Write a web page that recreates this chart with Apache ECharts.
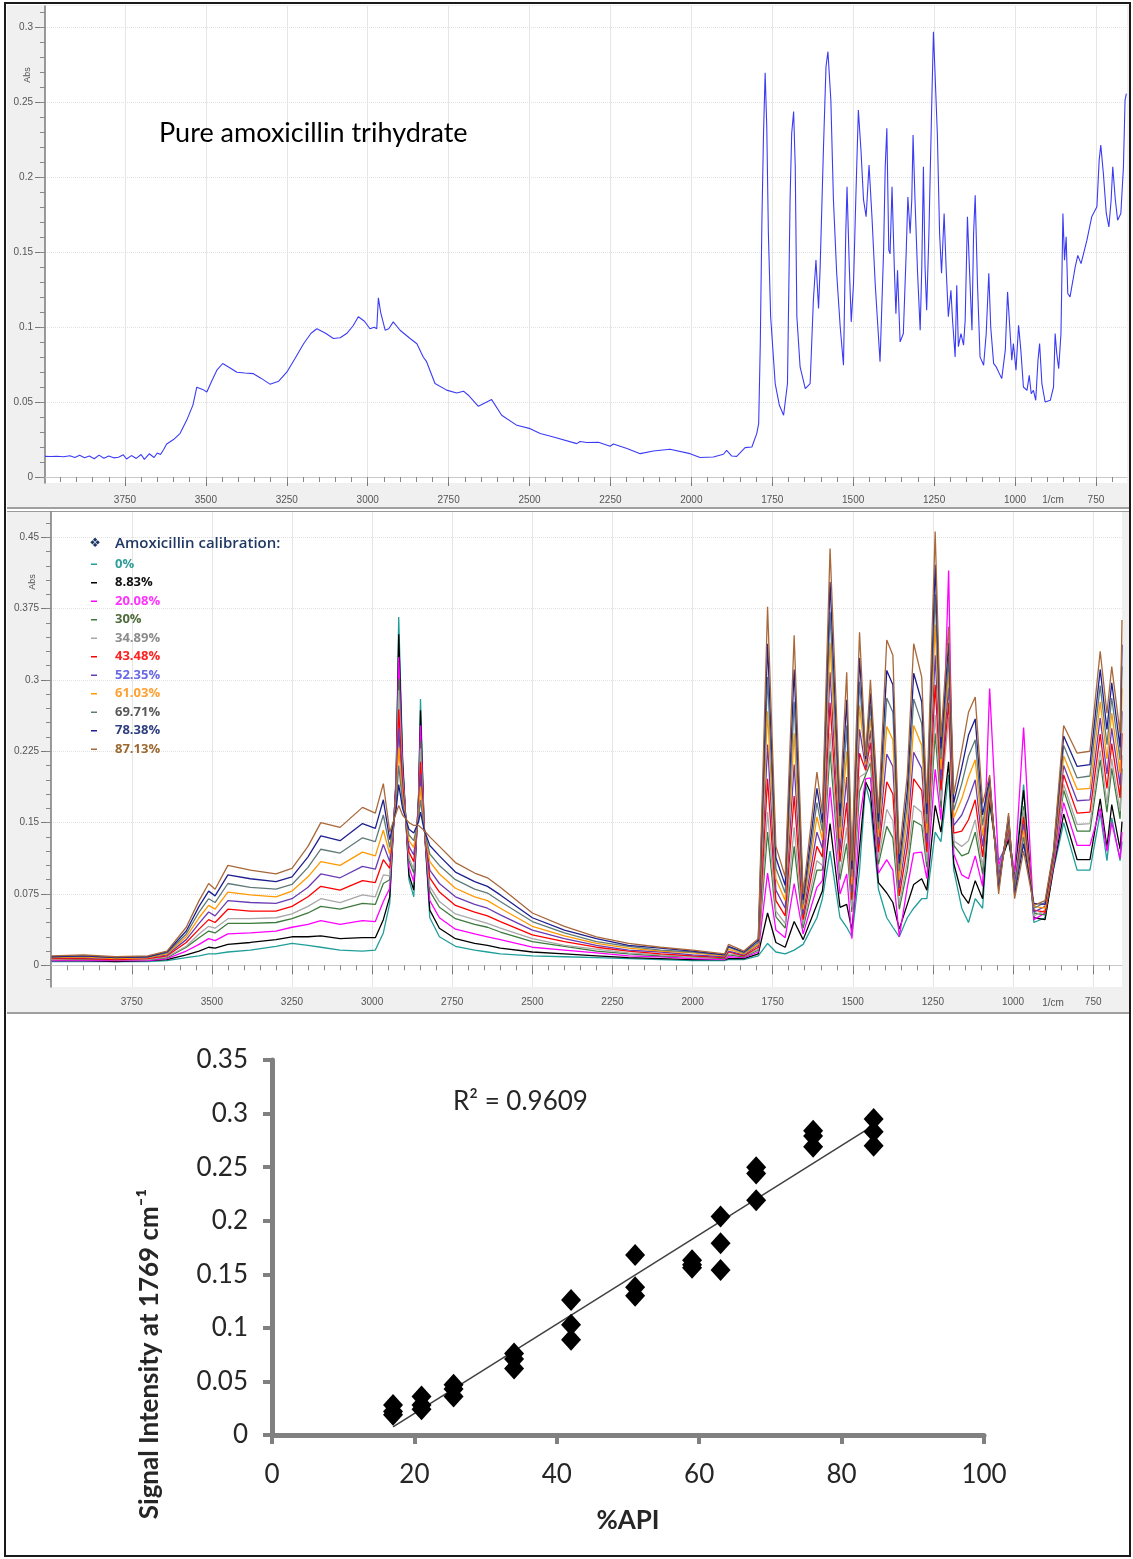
<!DOCTYPE html>
<html>
<head>
<meta charset="UTF-8" />
<script src="https://cdn.jsdelivr.net/npm/echarts@6/dist/echarts.min.js"></script>
<style>
  html, body { margin: 0; padding: 0; background: #fff; }
</style>
</head>
<body>
<div id="main" style="width: 1133px; height: 1559px"></div>
<script type="text/javascript">
// ---- top panel: pure amoxicillin trihydrate spectrum ----
var pureWave = [3997,3980,3960,3940,3920,3905,3890,3875,3860,3845,3830,3815,3800,3785,3770,3755,3745,3730,3715,3700,
  3690,3675,3660,3650,3640,3630,3621,3600,3580,3559,3540,3528,3510,3497,3480,3466,3448,3430,3404,3380,
  3353,3330,3302,3275,3250,3225,3198,3175,3157,3130,3106,3085,3065,3045,3029,3010,2993,2980,2972,2967,
  2960,2946,2935,2921,2900,2869,2848,2828,2818,2792,2756,2725,2704,2689,2658,2617,2586,2539,2498,2467,
  2426,2354,2344,2323,2287,2251,2241,2199,2158,2117,2066,2004,1973,1932,1901,1891,1875,1860,1834,1813,
  1798,1792,1787,1782,1777,1772,1767,1762,1755,1741,1728,1715,1703,1695,1690,1684,1679,1674,1664,1648,
  1633,1623,1615,1607,1602,1592,1584,1578,1574,1569,1561,1551,1540,1530,1523,1519,1512,1506,1499,1492,
  1484,1476,1468,1460,1451,1442,1432,1417,1406,1401,1396,1390,1386,1380,1373,1368,1363,1355,1345,1336,
  1331,1324,1319,1315,1309,1301,1293,1288,1283,1278,1273,1266,1257,1252,1246,1240,1233,1227,1219,1213,
  1206,1198,1193,1185,1180,1175,1167,1159,1154,1147,1141,1133,1128,1123,1116,1108,1097,1089,1081,1075,
  1066,1058,1041,1030,1023,1015,1010,1005,997,989,982,974,963,956,950,943,936,929,924,917,
  907,891,881,876,871,865,858,852,847,842,837,830,821,814,806,796,778,763,747,740,
  735,727,718,710,703,698,690,683,673,665,660,656];
var pureAbs = [0.0138,0.0137,0.0139,0.0135,0.0142,0.0130,0.0145,0.0128,0.0140,0.0122,0.0146,0.0125,0.0140,0.0128,0.0132,0.0148,0.0120,0.0143,0.0124,0.0150,
  0.0118,0.0155,0.0130,0.0160,0.0150,0.0185,0.0220,0.0250,0.0290,0.0380,0.0480,0.0600,0.0585,0.0568,0.0650,0.0713,0.0758,0.0735,0.0700,0.0695,
  0.0690,0.0660,0.0620,0.0640,0.0700,0.0790,0.0890,0.0960,0.0990,0.0960,0.0925,0.0930,0.0958,0.1010,0.1070,0.1040,0.0990,0.1000,0.0990,0.1196,
  0.1100,0.0980,0.0990,0.1036,0.0980,0.0925,0.0890,0.0800,0.0770,0.0624,0.0580,0.0561,0.0573,0.0546,0.0472,0.0517,0.0412,0.0345,0.0323,0.0290,
  0.0267,0.0223,0.0237,0.0230,0.0232,0.0205,0.0220,0.0190,0.0156,0.0174,0.0185,0.0156,0.0130,0.0134,0.0152,0.0178,0.0140,0.0138,0.0196,0.0200,
  0.0290,0.0357,0.0890,0.1715,0.2294,0.2700,0.2340,0.1626,0.1070,0.0624,0.0479,0.0412,0.0624,0.1850,0.2294,0.2440,0.2071,0.1070,0.0735,0.0590,
  0.0624,0.1180,0.1448,0.1125,0.1403,0.2183,0.2740,0.2840,0.2830,0.2517,0.1850,0.1360,0.1000,0.0746,0.1626,0.1938,0.1403,0.1036,0.1290,0.1850,
  0.2450,0.2183,0.1850,0.1738,0.2083,0.1738,0.1290,0.0769,0.1515,0.2071,0.2328,0.1515,0.1490,0.1938,0.1403,0.1090,0.1380,0.0902,0.0958,0.1515,
  0.1870,0.1626,0.1850,0.2283,0.1850,0.1360,0.0980,0.1403,0.2071,0.1403,0.1114,0.1626,0.2517,0.2973,0.2962,0.2294,0.1626,0.1360,0.1760,0.1403,
  0.1070,0.1247,0.1047,0.0802,0.1280,0.0870,0.0958,0.0880,0.1047,0.1737,0.1403,0.0980,0.1626,0.1882,0.1290,0.0802,0.0746,0.0958,0.1360,0.1000,
  0.0757,0.0735,0.0657,0.0847,0.1236,0.0958,0.0780,0.0891,0.0713,0.1013,0.0847,0.0601,0.0579,0.0679,0.0557,0.0579,0.0512,0.0780,0.0891,0.0624,
  0.0501,0.0512,0.0601,0.0958,0.0824,0.0724,0.0958,0.1760,0.1448,0.1604,0.1225,0.1203,0.1314,0.1403,0.1480,0.1425,0.1580,0.1737,0.1804,0.2116,
  0.2216,0.2027,0.1760,0.1670,0.1850,0.2071,0.1850,0.1715,0.1760,0.2071,0.2517,0.2560];

// ---- middle panel: calibration spectra (shared wavenumber grid) ----
var midWave = [4000,3900,3800,3700,3640,3580,3540,3510,3490,3450,
  3380,3300,3250,3200,3160,3100,3030,2990,2965,2945,
  2925,2917,2905,2885,2870,2855,2849,2838,2820,2790,
  2740,2680,2640,2600,2500,2400,2300,2200,2100,2000,
  1900,1888,1840,1795,1766,1740,1711,1683,1655,1612,
  1595,1571,1540,1519,1503,1479,1460,1445,1420,1394,
  1375,1355,1330,1310,1285,1269,1243,1225,1201,1185,
  1160,1139,1118,1095,1073,1045,1014,995,967,935,
  900,874,842,800,760,728,707,692,666,660];

var abs0 = [.004,.004,.004,.004,.005,.008,.010,.012,.012,.014,
  .016,.020,.023,.021,.019,.016,.015,.016,.034,.065,
  .200,.366,.220,.090,.072,.180,.280,.150,.050,.030,
  .020,.016,.014,.012,.010,.009,.008,.007,.006,.005,
  .005,.006,.006,.010,.023,.014,.012,.016,.022,.050,
  .070,.120,.050,.040,.030,.100,.190,.170,.080,.050,
  .040,.030,.050,.060,.070,.070,.140,.130,.200,.100,
  .060,.045,.070,.060,.170,.110,.130,.095,.190,.045,
  .050,.100,.150,.100,.100,.160,.110,.155,.110,.130];
var abs883 = [.005,.005,.004,.005,.006,.011,.015,.019,.018,.022,
  .024,.027,.030,.030,.031,.028,.029,.029,.048,.072,
  .196,.348,.214,.095,.079,.177,.268,.149,.058,.039,
  .028,.023,.021,.018,.014,.012,.010,.008,.007,.006,
  .006,.007,.007,.012,.055,.024,.019,.046,.027,.064,
  .078,.149,.061,.064,.037,.123,.193,.182,.087,.076,
  .066,.038,.064,.085,.091,.079,.168,.140,.214,.107,
  .075,.065,.089,.070,.173,.100,.133,.090,.184,.050,
  .048,.102,.159,.111,.111,.175,.124,.169,.122,.151];
var abs2008 = [.005,.005,.005,.005,.007,.015,.022,.028,.026,.033,
  .034,.036,.040,.043,.047,.043,.047,.046,.067,.081,
  .192,.324,.207,.103,.088,.173,.252,.148,.068,.050,
  .038,.033,.030,.027,.019,.016,.013,.010,.009,.007,
  .006,.009,.008,.014,.097,.037,.029,.086,.033,.082,
  .089,.187,.075,.096,.028,.153,.196,.197,.097,.111,
  .100,.030,.082,.118,.119,.091,.206,.153,.415,.117,
  .095,.091,.115,.083,.291,.105,.136,.098,.250,.048,
  .055,.104,.171,.126,.126,.165,.120,.150,.112,.140];
var abs30 = [.006,.006,.006,.006,.008,.019,.029,.036,.034,.044,
  .044,.045,.049,.055,.062,.059,.065,.064,.086,.090,
  .187,.301,.200,.110,.097,.169,.236,.147,.078,.061,
  .049,.043,.040,.035,.025,.020,.015,.012,.010,.009,
  .007,.011,.009,.016,.140,.051,.039,.125,.039,.100,
  .100,.225,.090,.128,.056,.183,.200,.213,.106,.146,
  .134,.059,.100,.152,.147,.103,.244,.166,.320,.126,
  .115,.118,.140,.096,.180,.095,.140,.085,.167,.055,
  .053,.107,.184,.141,.141,.216,.161,.207,.154,.207];
var abs3489 = [.006,.007,.006,.006,.009,.020,.033,.041,.039,.049,
  .049,.050,.054,.062,.070,.066,.074,.072,.095,.094,
  .184,.289,.196,.113,.101,.167,.228,.147,.083,.067,
  .054,.048,.044,.039,.028,.021,.017,.013,.011,.009,
  .008,.012,.010,.017,.161,.057,.044,.145,.043,.110,
  .105,.244,.097,.145,.061,.198,.202,.221,.111,.164,
  .152,.064,.109,.168,.161,.109,.263,.173,.261,.131,
  .125,.131,.153,.103,.182,.098,.142,.088,.163,.052,
  .058,.108,.190,.148,.149,.226,.170,.217,.162,.221];
var abs4348 = [.007,.007,.006,.007,.010,.024,.038,.048,.045,.059,
  .057,.057,.062,.072,.083,.079,.089,.087,.111,.102,
  .180,.269,.190,.119,.109,.164,.214,.146,.092,.077,
  .063,.056,.052,.046,.032,.025,.019,.015,.012,.010,
  .008,.014,.010,.019,.196,.068,.052,.178,.048,.125,
  .114,.276,.109,.171,.069,.223,.205,.234,.119,.193,
  .180,.073,.124,.196,.184,.119,.295,.184,.276,.139,
  .141,.153,.174,.114,.185,.090,.145,.082,.156,.058,
  .056,.110,.200,.160,.161,.243,.186,.233,.176,.244];
var abs5235 = [.008,.008,.007,.008,.011,.027,.044,.056,.052,.068,
  .066,.065,.070,.082,.096,.092,.104,.101,.127,.109,
  .176,.249,.183,.125,.116,.161,.201,.145,.100,.086,
  .072,.064,.060,.053,.037,.028,.021,.016,.014,.011,
  .009,.015,.011,.021,.232,.079,.060,.211,.053,.140,
  .123,.308,.121,.198,.077,.248,.208,.247,.127,.222,
  .209,.081,.139,.224,.207,.129,.326,.195,.292,.147,
  .158,.175,.195,.125,.188,.092,.148,.084,.149,.056,
  .062,.112,.210,.173,.174,.260,.201,.249,.189,.267];
var abs6103 = [.008,.009,.007,.008,.012,.030,.050,.063,.059,.077,
  .074,.072,.078,.093,.109,.105,.119,.115,.142,.117,
  .172,.229,.177,.131,.124,.157,.188,.144,.109,.096,
  .081,.072,.068,.060,.041,.031,.023,.018,.015,.013,
  .010,.017,.012,.022,.267,.091,.068,.244,.059,.156,
  .132,.339,.133,.225,.085,.273,.211,.260,.135,.251,
  .237,.090,.154,.252,.231,.139,.358,.206,.308,.155,
  .175,.198,.216,.136,.191,.085,.151,.078,.142,.062,
  .060,.114,.220,.185,.186,.277,.217,.265,.202,.291];
var abs6971 = [.009,.010,.008,.009,.013,.033,.056,.070,.066,.086,
  .082,.080,.085,.103,.122,.118,.134,.130,.158,.124,
  .168,.210,.171,.137,.131,.154,.174,.144,.117,.105,
  .090,.080,.076,.067,.046,.034,.025,.020,.016,.014,
  .011,.019,.013,.024,.303,.102,.076,.277,.064,.171,
  .141,.371,.145,.252,.093,.298,.214,.273,.143,.281,
  .266,.099,.169,.280,.254,.149,.390,.217,.323,.163,
  .191,.220,.237,.147,.194,.082,.154,.080,.135,.060,
  .066,.116,.231,.197,.199,.294,.232,.281,.216,.314];
var abs7838 = [.009,.010,.008,.009,.014,.036,.062,.078,.073,.095,
  .091,.088,.093,.114,.136,.131,.149,.144,.174,.132,
  .164,.190,.165,.143,.139,.151,.161,.143,.126,.115,
  .098,.088,.083,.074,.050,.037,.028,.021,.018,.015,
  .011,.020,.014,.026,.338,.113,.084,.311,.069,.186,
  .150,.403,.157,.279,.101,.323,.217,.286,.151,.310,
  .295,.107,.184,.307,.277,.159,.421,.228,.339,.171,
  .208,.242,.259,.158,.197,.080,.157,.074,.128,.065,
  .064,.118,.241,.209,.211,.311,.248,.297,.229,.337];
var abs8713 = [.010,.011,.009,.010,.015,.040,.068,.086,.080,.105,
  .100,.096,.102,.125,.150,.145,.166,.160,.191,.140,
  .160,.168,.158,.150,.147,.147,.146,.142,.135,.125,
  .108,.097,.092,.082,.055,.041,.030,.023,.019,.016,
  .012,.022,.015,.028,.377,.125,.093,.347,.075,.203,
  .160,.438,.170,.308,.110,.350,.220,.300,.160,.342,
  .326,.117,.200,.338,.303,.170,.456,.240,.356,.180,
  .226,.266,.282,.170,.200,.075,.160,.070,.120,.063,
  .068,.120,.252,.223,.225,.330,.265,.314,.244,.363];

var calibNames = ['0%','8.83%','20.08%','30%','34.89%','43.48%','52.35%','61.03%','69.71%','78.38%','87.13%'];
var calibData = [abs0, abs883, abs2008, abs30, abs3489, abs4348, abs5235, abs6103, abs6971, abs7838, abs8713];
var lineColors = ['#1f9e9a','#000000','#ff00ff','#3d7a3d','#a8a8a8','#ff0000','#6a3cb4','#ff9900','#5f7a78','#1f1f8f','#a8683a'];
var textColors = ['#2e9e98','#111111','#ff33ff','#4e6b3a','#8c8c8c','#ff2020','#6a6ae8','#ffa033','#595959','#2f3f7f','#9c6a30'];

// ---- bottom panel: calibration at 1769 cm-1 ----
var apiPct = [17,17,17,21,21,21,25.5,25.5,25.5,34,34,34,42,42,42,51,51,51,59,59,59,63,63,63,68,68,68,76,76,76,84.5,84.5,84.5];
var signal1769 = [0.028,0.022,0.019,0.036,0.028,0.024,0.047,0.043,0.036,0.076,0.071,0.062,0.126,0.103,0.089,
  0.168,0.138,0.130,0.163,0.159,0.156,0.204,0.179,0.154,0.250,0.244,0.219,0.284,0.279,0.269,0.295,0.283,0.270];
var trendX = [17, 84.5];
var trendY = [0.0076, 0.289];

// tick labels
var waveMajor = [3750,3500,3250,3000,2750,2500,2250,2000,1750,1500,1250,1000,750];
var topYMajor = [0,0.05,0.1,0.15,0.2,0.25,0.3];
var midYMajor = [0,0.075,0.15,0.225,0.3,0.375,0.45];

var waveMinor = [];
for (var w = 700; w <= 3950; w += 50) waveMinor.push(w);
var topYMinor = [];
for (var k = 0; k <= 31; k++) topYMinor.push(Math.round(k * 10) / 1000);
var midYMinor = [];
for (var k = -1; k <= 31; k++) midYMinor.push(Math.round(k * 15) / 1000);

var smallFont = 'Liberation Sans';
var bigFont = 'Lato';

function specX(grid, min, max, margin) {
    return [
        {
            gridIndex: grid, type: 'value', inverse: true, min: min, max: max, position: 'bottom',
            axisLine: { show: true, lineStyle: { color: '#c8c8c8' } },
            axisTick: { show: true, customValues: waveMajor, length: 9, lineStyle: { color: '#777' } },
            axisLabel: { customValues: waveMajor, formatter: function (v) { return String(v); },
                color: '#555', fontSize: 10, fontFamily: smallFont, margin: margin },
            splitLine: { show: true, lineStyle: { color: '#e6e6e6' } }
        },
        {
            gridIndex: grid, type: 'value', inverse: true, min: min, max: max, position: 'bottom',
            axisLine: { show: false },
            axisTick: { show: true, customValues: waveMinor, length: 5, lineStyle: { color: '#888' } },
            axisLabel: { show: false },
            splitLine: { show: false }
        }
    ];
}
function specY(grid, min, max, major, minor) {
    return [
        {
            gridIndex: grid, type: 'value', min: min, max: max, position: 'left',
            axisLine: { show: true, lineStyle: { color: '#7a7a7a', width: 1.5 } },
            axisTick: { show: true, customValues: major, length: 10, lineStyle: { color: '#7a7a7a' } },
            axisLabel: { customValues: major, formatter: function (v) { return String(v); },
                color: '#555', fontSize: 10, fontFamily: smallFont, margin: 12 },
            splitLine: { show: true, lineStyle: { color: '#e2e2e2', type: 'dotted' } }
        },
        {
            gridIndex: grid, type: 'value', min: min, max: max, position: 'left',
            axisLine: { show: false },
            axisTick: { show: true, customValues: minor, length: 5, lineStyle: { color: '#888' } },
            axisLabel: { show: false },
            splitLine: { show: false }
        }
    ];
}

var chart = echarts.init(document.getElementById('main'));

var series = [];
series.push({
    name: 'Pure amoxicillin trihydrate', type: 'line', xAxisIndex: 0, yAxisIndex: 0,
    data: pureWave.map(function (w, i) { return [w, pureAbs[i]]; }),
    symbol: 'none', lineStyle: { color: '#3b3bf5', width: 1.1 }, z: 3
});
calibNames.forEach(function (name, i) {
    series.push({
        name: name, type: 'line', xAxisIndex: 2, yAxisIndex: 2,
        data: midWave.map(function (w, j) { return [w, calibData[i][j]]; }),
        symbol: 'none', itemStyle: { color: lineColors[i] },
        lineStyle: { color: lineColors[i], width: 1.3 }, z: 3
    });
});
series.push({
    name: 'trend', type: 'line', xAxisIndex: 4, yAxisIndex: 4,
    data: trendX.map(function (x, i) { return [x, trendY[i]]; }),
    symbol: 'none', lineStyle: { color: '#404040', width: 1.5 }, z: 2
});
series.push({
    name: 'signal', type: 'scatter', xAxisIndex: 4, yAxisIndex: 4,
    data: apiPct.map(function (x, i) { return [x, signal1769[i]]; }),
    symbol: 'diamond', symbolSize: [20, 22], itemStyle: { color: '#000', opacity: 1 }, z: 3
});

var option = {
    animation: false,
    backgroundColor: '#ffffff',
    grid: [
        { left: 45, top: 6, width: 1082, height: 477 },
        { left: 51, top: 512, width: 1071, height: 475 },
        { left: 272, top: 1060, width: 712, height: 375 }
    ],
    xAxis: specX(0, 654, 3997, 12).concat(specX(1, 660, 4002, 10)).concat([{
        gridIndex: 2, type: 'value', min: 0, max: 100, interval: 20,
        axisLine: { show: true, lineStyle: { color: '#808080', width: 5 } },
        axisTick: { show: true, length: 9, lineStyle: { color: '#808080', width: 4 } },
        axisLabel: { color: '#262626', fontSize: 26, fontFamily: bigFont, margin: 27 },
        splitLine: { show: false },
        name: '%API', nameLocation: 'middle', nameGap: 73,
        nameTextStyle: { color: '#262626', fontSize: 26, fontWeight: 'bold', fontFamily: bigFont }
    }]),
    yAxis: specY(0, -0.004, 0.3145, topYMajor, topYMinor).concat(specY(1, -0.0228, 0.4765, midYMajor, midYMinor)).concat([{
        gridIndex: 2, type: 'value', min: 0, max: 0.35, interval: 0.05,
        axisLine: { show: true, lineStyle: { color: '#808080', width: 5 } },
        axisTick: { show: true, length: 9, lineStyle: { color: '#808080', width: 4 } },
        axisLabel: { color: '#262626', fontSize: 26, fontFamily: bigFont, margin: 24 },
        splitLine: { show: false }
    }]),
    legend: {
        data: calibNames.map(function (n, i) { return { name: n, textStyle: { color: textColors[i] } }; }),
        orient: 'vertical', left: 86, top: 550, icon: 'rect', itemWidth: 6, itemHeight: 1.5, itemGap: 0,
        selectedMode: false,
        textStyle: { fontSize: 13, fontWeight: 'bold', fontFamily: 'Open Sans', lineHeight: 18.5, padding: [0, 0, 0, 13] }
    },
    graphic: [
        // panel backgrounds
        { type: 'rect', z: -20, shape: { x: 7, y: 5, width: 1122, height: 502 }, style: { fill: '#f0f0f0' } },
        { type: 'rect', z: -19, shape: { x: 45, y: 6, width: 1082, height: 477 }, style: { fill: '#ffffff' } },
        { type: 'rect', z: -19, shape: { x: 7, y: 507, width: 1122, height: 2 }, style: { fill: '#a0a0a0' } },
        { type: 'rect', z: -20, shape: { x: 7, y: 511, width: 1122, height: 501 }, style: { fill: '#f0f0f0' } },
        { type: 'rect', z: -19, shape: { x: 51, y: 512, width: 1071, height: 475 }, style: { fill: '#ffffff' } },
        { type: 'rect', z: -19, shape: { x: 7, y: 511, width: 1122, height: 1 }, style: { fill: '#9a9a9a' } },
        { type: 'rect', z: -19, shape: { x: 7, y: 1012, width: 1122, height: 2 }, style: { fill: '#a0a0a0' } },
        // figure border
        { type: 'rect', z: 50, shape: { x: 5, y: 3, width: 1125, height: 1553 }, style: { fill: 'none', stroke: '#1a1a1a', lineWidth: 2 } },
        // texts
        { type: 'text', z: 10, x: 159, y: 133, style: { text: 'Pure amoxicillin trihydrate', font: '27px Lato', fill: '#000', textAlign: 'left', textVerticalAlign: 'middle' } },
        { type: 'text', z: 10, x: 28, y: 75, rotation: Math.PI / 2, style: { text: 'Abs', font: '9px "Liberation Sans"', fill: '#555', textAlign: 'center', textVerticalAlign: 'middle' } },
        { type: 'text', z: 10, x: 33, y: 582, rotation: Math.PI / 2, style: { text: 'Abs', font: '9px "Liberation Sans"', fill: '#555', textAlign: 'center', textVerticalAlign: 'middle' } },
        { type: 'text', z: 10, x: 1053, y: 500, style: { text: '1/cm', font: '10px "Liberation Sans"', fill: '#555', textAlign: 'center', textVerticalAlign: 'middle' } },
        { type: 'text', z: 10, x: 1053, y: 1003, style: { text: '1/cm', font: '10px "Liberation Sans"', fill: '#555', textAlign: 'center', textVerticalAlign: 'middle' } },
        { type: 'text', z: 10, x: 95, y: 544, style: { text: '❖', font: '13px "DejaVu Sans"', fill: '#1f3864', textAlign: 'center', textVerticalAlign: 'middle' } },
        { type: 'text', z: 10, x: 115, y: 544, style: { text: 'Amoxicillin calibration:', font: '600 15px "Open Sans"', fill: '#1f3864', textAlign: 'left', textVerticalAlign: 'middle' } },
        { type: 'text', z: 10, x: 453, y: 1102, style: { text: 'R² = 0.9609', font: '26px Lato', fill: '#262626', textAlign: 'left', textVerticalAlign: 'middle' } },
        { type: 'text', z: 10, x: 150, y: 1354, rotation: Math.PI / 2, style: { text: 'Signal Intensity at 1769 cm⁻¹', font: 'bold 26px Lato', fill: '#262626', textAlign: 'center', textVerticalAlign: 'middle' } }
    ],
    series: series
};

option && chart.setOption(option);
</script>
</body>
</html>
